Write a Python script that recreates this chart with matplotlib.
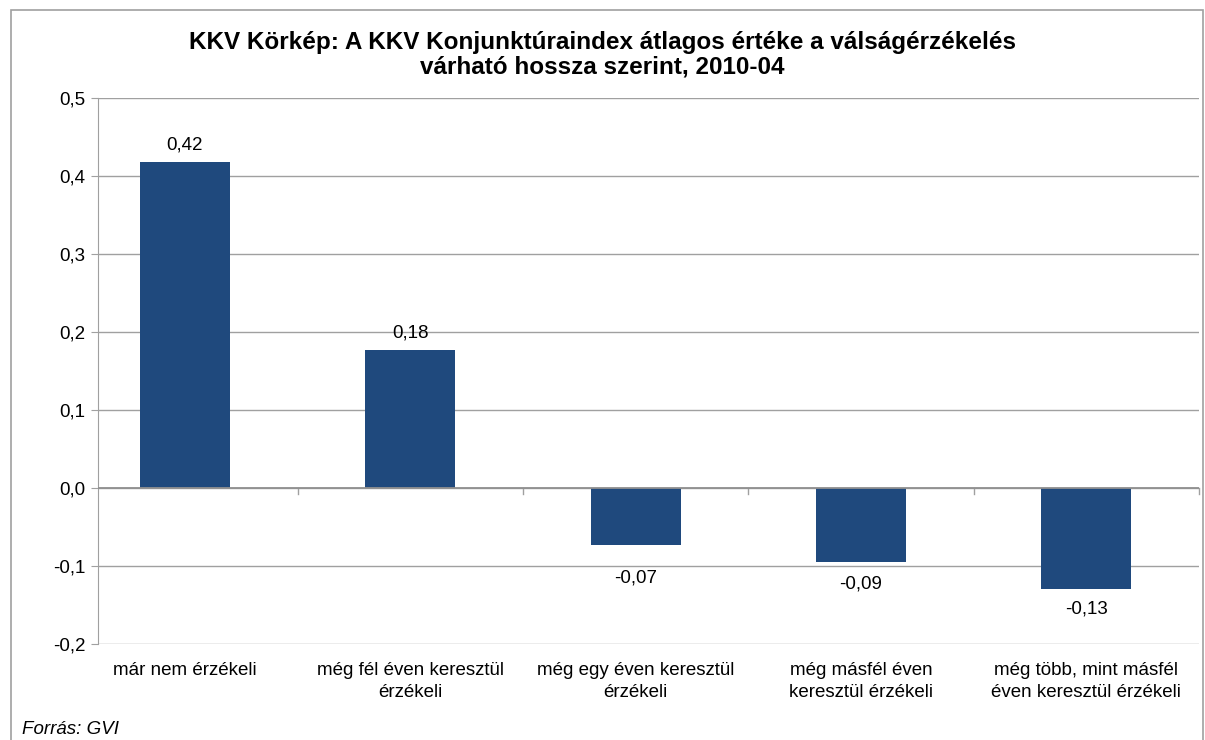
import numpy as np
import matplotlib.pyplot as plt
from matplotlib.ticker import FuncFormatter, FixedLocator
from matplotlib.patches import Rectangle

plt.rcParams['font.family'] = ['Liberation Sans', 'DejaVu Sans']

categories = [
    "már nem érzékeli",
    "még fél éven keresztül\nérzékeli",
    "még egy éven keresztül\nérzékeli",
    "még másfél éven\nkeresztül érzékeli",
    "még több, mint másfél\néven keresztül érzékeli",
]
values = [0.418, 0.177, -0.073, -0.095, -0.129]
labels = ["0,42", "0,18", "-0,07", "-0,09", "-0,13"]

# label distance from bar end, in points (Excel nudged the -0,07 one lower)
label_offsets = [12.5, 12.5, -24, -16, -15]

W, H = 1205, 740
fig = plt.figure(figsize=(W / 100, H / 100), dpi=100)
ax = fig.add_axes([98 / W, 1 - 644 / H, (1199 - 98) / W, (644 - 98) / H])

# outer frame
fig.patches.append(Rectangle((11 / W, -0.05), (1203 - 11) / W, 1.05 - 10 / H,
                             transform=fig.transFigure, fill=False,
                             edgecolor="#a0a0a0", linewidth=1.2))

x = np.arange(len(categories))
ax.bar(x, values, width=0.40, color="#1f497d", zorder=3)

for xi, v, lab, off in zip(x, values, labels, label_offsets):
    ax.annotate(lab, (xi, v), xytext=(0, off), textcoords="offset points",
                ha="center", va="center", fontsize=13.5)

ax.set_xlim(-0.386, len(categories) - 0.5)
ax.set_ylim(-0.2, 0.5)
ax.yaxis.set_major_locator(FixedLocator(np.arange(-0.2, 0.51, 0.1)))
ax.yaxis.set_major_formatter(FuncFormatter(lambda v, p: f"{v:.1f}".replace(".", ",").replace("-0,0", "0,0")))
ax.grid(axis="y", color="#a0a0a0", linewidth=1, zorder=0)
ax.tick_params(axis="y", length=5, color="#a0a0a0", labelsize=13.5, pad=4)

# category labels and boundary ticks
ax.set_xticks(x)
ax.set_xticklabels([])
ax.tick_params(axis="x", length=0)
for xi, c in zip(x, categories):
    ax.text(xi, -0.223, c, ha="center", va="top", fontsize=13.5, linespacing=1.38)
for b in np.arange(0.5, len(categories), 1.0):
    ax.plot([b, b], [0, -0.008], color="#a0a0a0", linewidth=1, clip_on=False, zorder=4)
ax.axhline(0, color="#909090", linewidth=1.3, zorder=4)

for s in ["top", "right", "bottom"]:
    ax.spines[s].set_visible(False)
ax.spines["left"].set_color("#a0a0a0")

fig.text(0.5, 1 - 55 / H, "KKV Körkép: A KKV Konjunktúraindex átlagos értéke a válságérzékelés\nvárható hossza szerint, 2010-04",
         ha="center", va="center", fontsize=17.5, fontweight="bold", linespacing=1.08)
fig.text(22 / W, 1 - 729 / H, "Forrás: GVI", ha="left", va="center", fontsize=13.5, style="italic")

fig.savefig("out.png", dpi=100)
